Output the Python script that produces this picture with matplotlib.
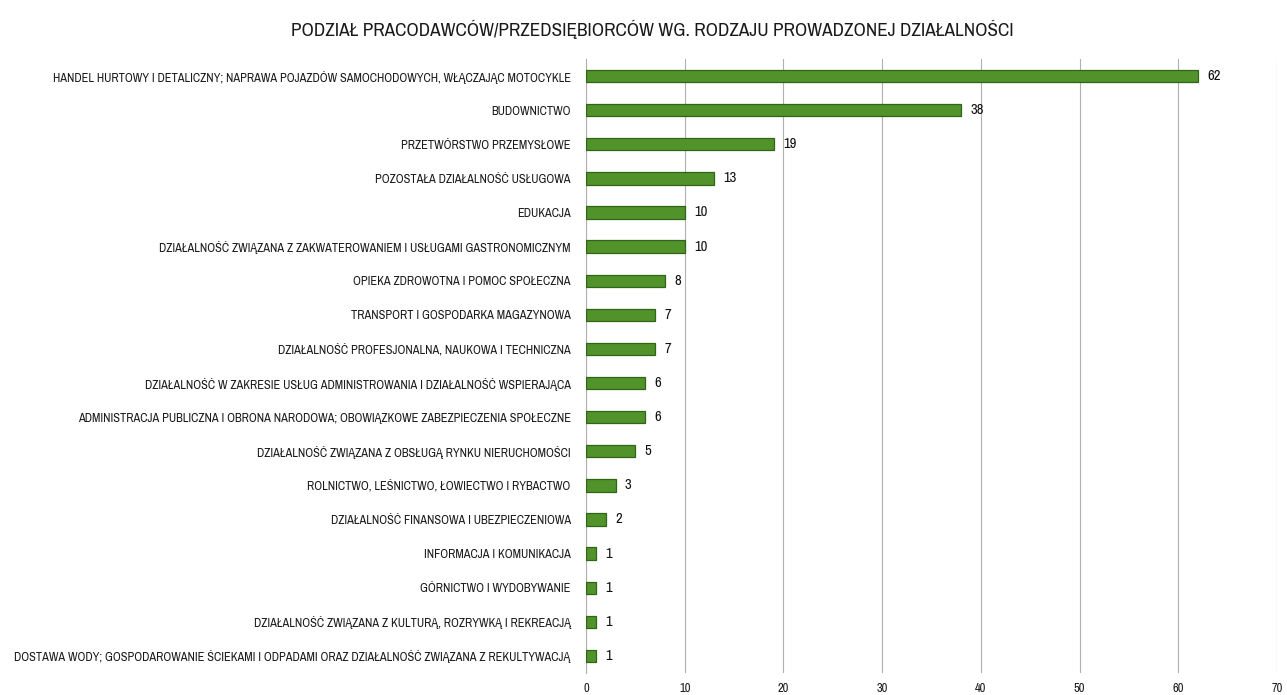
import matplotlib
matplotlib.use("Agg")
import matplotlib.pyplot as plt
from matplotlib import font_manager

categories = [
    "HANDEL HURTOWY I DETALICZNY; NAPRAWA POJAZDÓW SAMOCHODOWYCH, WŁĄCZAJĄC MOTOCYKLE",
    "BUDOWNICTWO",
    "PRZETWÓRSTWO PRZEMYSŁOWE",
    "POZOSTAŁA DZIAŁALNOŚĆ USŁUGOWA",
    "EDUKACJA",
    "DZIAŁALNOŚĆ ZWIĄZANA Z ZAKWATEROWANIEM I USŁUGAMI GASTRONOMICZNYM",
    "OPIEKA ZDROWOTNA I POMOC SPOŁECZNA",
    "TRANSPORT I GOSPODARKA MAGAZYNOWA",
    "DZIAŁALNOŚĆ PROFESJONALNA, NAUKOWA I TECHNICZNA",
    "DZIAŁALNOŚĆ W ZAKRESIE USŁUG ADMINISTROWANIA I DZIAŁALNOŚĆ WSPIERAJĄCA",
    "ADMINISTRACJA PUBLICZNA I OBRONA NARODOWA; OBOWIĄZKOWE ZABEZPIECZENIA SPOŁECZNE",
    "DZIAŁALNOŚĆ ZWIĄZANA Z OBSŁUGĄ RYNKU NIERUCHOMOŚCI",
    "ROLNICTWO, LEŚNICTWO, ŁOWIECTWO I RYBACTWO",
    "DZIAŁALNOŚĆ FINANSOWA I UBEZPIECZENIOWA",
    "INFORMACJA I KOMUNIKACJA",
    "GÓRNICTWO I WYDOBYWANIE",
    "DZIAŁALNOŚĆ ZWIĄZANA Z KULTURĄ, ROZRYWKĄ I REKREACJĄ",
    "DOSTAWA WODY; GOSPODAROWANIE ŚCIEKAMI I ODPADAMI ORAZ DZIAŁALNOŚĆ ZWIĄZANA Z REKULTYWACJĄ",
]
values = [62, 38, 19, 13, 10, 10, 8, 7, 7, 6, 6, 5, 3, 2, 1, 1, 1, 1]
x_ticks = [0, 10, 20, 30, 40, 50, 60, 70]
title = "PODZIAŁ PRACODAWCÓW/PRZEDSIĘBIORCÓW WG. RODZAJU PROWADZONEJ DZIAŁALNOŚCI"

names = {f.name for f in font_manager.fontManager.ttflist}
fam = "DejaVu Sans"
for cand in ["Archivo Narrow", "Liberation Sans Narrow", "Asap Condensed", "Barlow Semi Condensed"]:
    if cand in names:
        fam = cand
        break
plt.rcParams['font.family'] = [fam, 'DejaVu Sans']
plt.rcParams['font.weight'] = 'normal'

fig = plt.figure(figsize=(12.87, 6.95), dpi=100)
ax = fig.add_axes([0.4553, 0.0317, 0.5369, 0.8834])

n = len(categories)
ypos = list(range(n))
ax.barh(ypos, values, height=0.36, color="#52922B", edgecolor="#2F6516", linewidth=0.9, zorder=3)
for y, v in zip(ypos, values):
    ax.text(v + 0.95, y, str(v), va="center", ha="left", fontsize=10.5, color="#111111")

ax.set_xlim(0, 70)
ax.set_ylim(n - 0.5, -0.5)
ax.set_yticks(ypos)
ax.set_yticklabels(categories, fontsize=8.9, color="#1A1A1A")
ax.set_xticks(x_ticks)
ax.set_xticklabels([str(t) for t in x_ticks], fontsize=9, color="#1A1A1A")
ax.tick_params(axis="both", length=0)
ax.tick_params(axis="y", pad=11)
ax.tick_params(axis="x", pad=7)
ax.grid(axis="x", color="#B0B0B0", linewidth=0.8, zorder=0)
for s in ["top", "right", "bottom"]:
    ax.spines[s].set_visible(False)
ax.spines["left"].set_color("#B0B0B0")
ax.spines["left"].set_linewidth(0.8)

fig.text(0.507, 0.958, title, ha="center", va="center", fontsize=13.8, color="#1A1A1A")

fig.savefig("out.png", dpi=100)
